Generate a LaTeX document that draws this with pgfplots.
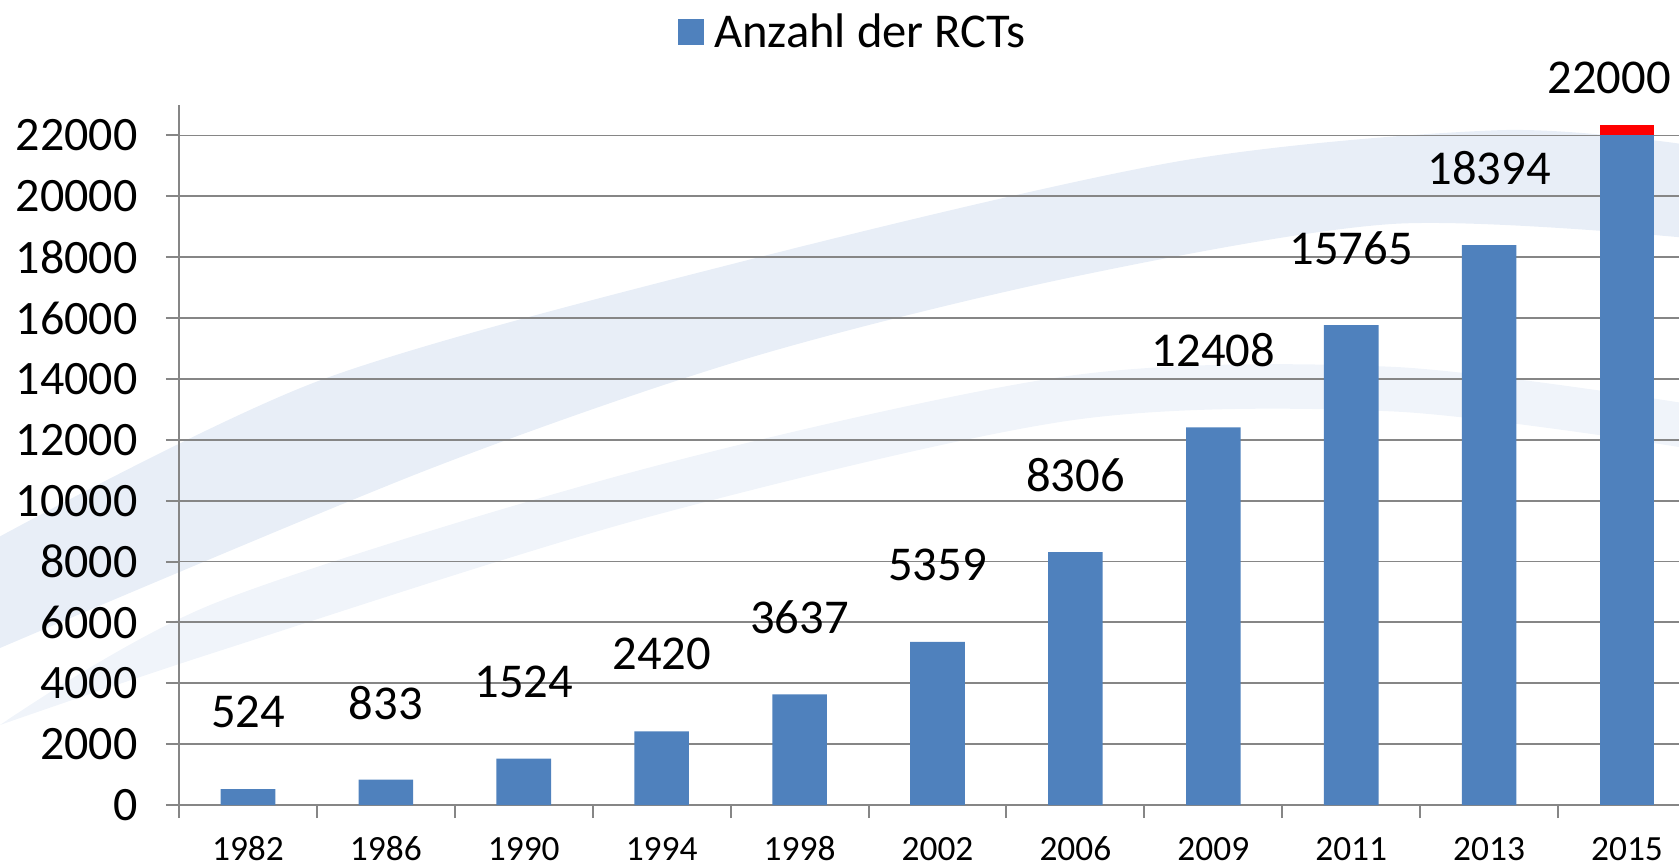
\documentclass[border=0pt]{standalone}
\usepackage{pgfplots}
\pgfplotsset{compat=1.18}
\usepackage{fontspec}
\setmainfont{Carlito}
\definecolor{barblue}{HTML}{4F81BD}
\definecolor{gridgray}{HTML}{868686}
\definecolor{swooshA}{HTML}{E8EEF7}
\definecolor{swooshB}{HTML}{F0F4FA}
\pgfkeys{/pgf/number format/.cd,1000 sep={}}
\begin{document}
\begin{tikzpicture}
\fill[swooshA] plot[smooth] coordinates {(-89.5pt,134.3pt) (71pt,212.5pt) (285.3pt,272.7pt) (499.4pt,321.8pt) (660pt,337.4pt) (750pt,330.7pt)}
  -- plot[smooth] coordinates {(750pt,283.9pt) (606.5pt,290.5pt) (445.9pt,263.8pt) (285.3pt,223.6pt) (124.7pt,167.8pt) (-89.5pt,78.5pt)} -- cycle;
\fill[swooshB] plot[smooth] coordinates {(-89.5pt,40pt) (17.6pt,100.8pt) (231.7pt,167.8pt) (445.9pt,214.7pt) (606.5pt,219.1pt) (750pt,201.3pt)}
  -- plot[smooth] coordinates {(750pt,179pt) (606.5pt,196.8pt) (445.9pt,192.3pt) (231.7pt,143.2pt) (17.6pt,76.2pt) (-89.5pt,40pt)} -- cycle;
\begin{axis}[
  at={(0,0)}, anchor=south west,
  scale only axis, width=750pt, height=350pt,
  xmin=-0.5, xmax=10.377, ymin=0, ymax=23000,
  axis x line*=bottom, axis y line*=left,
  axis line style={gridgray, line width=1pt},
  ytick={0,2000,...,22000},
  scaled y ticks=false,
  ymajorgrids, grid style={gridgray, line width=0.9pt},
  xtick={0,...,10},
  xticklabels={1982,1986,1990,1994,1998,2002,2006,2009,2011,2013,2015},
  minor xtick={-0.5,0.5,...,9.5},
  major x tick style={draw=none},
  minor x tick style={gridgray, line width=1pt},
  y tick style={gridgray, line width=1pt},
  tick align=outside, major tick length=6.5pt, minor tick length=6.5pt,
  /pgf/number format/assume math mode=true,
  yticklabel style={font=\fontsize{24}{28}\selectfont, anchor=east, xshift=-10.7pt},
  xticklabel style={font=\fontsize{17.7}{20}\selectfont, anchor=center, yshift=-15.5pt},
  ybar, bar width=27.3pt, bar shift=0pt,
  legend style={at={(0.45,1.104)}, anchor=center, draw=none, fill=none,
    font=\fontsize{24.3}{28}\selectfont, legend columns=1},
  legend image code/.code={\fill[#1] (0pt,-6.5pt) rectangle (13pt,6.5pt);},
  every node near coord/.append style={font=\fontsize{24.3}{28}\selectfont, anchor=center, black},
]
\addplot[fill=red, draw=none, forget plot,
  nodes near coords={22000}, every node near coord/.append style={yshift=23.5pt, xshift=-9pt}]
  coordinates {(10,22350)};
\addplot[fill=barblue, draw=none,
  nodes near coords, every node near coord/.append style={yshift=38.5pt}]
  coordinates {(0,524) (1,833) (2,1524) (3,2420) (4,3637) (5,5359) (6,8306) (7,12408) (8,15765) (9,18394)};
\addlegendentry{\hspace{3pt}Anzahl der RCTs}
\addplot[fill=barblue, draw=none, forget plot]
  coordinates {(10,22000)};
\end{axis}
\pgfresetboundingbox
\useasboundingbox (-89.5pt,-31pt) rectangle (750pt,402.5pt);
\end{tikzpicture}
\end{document}
